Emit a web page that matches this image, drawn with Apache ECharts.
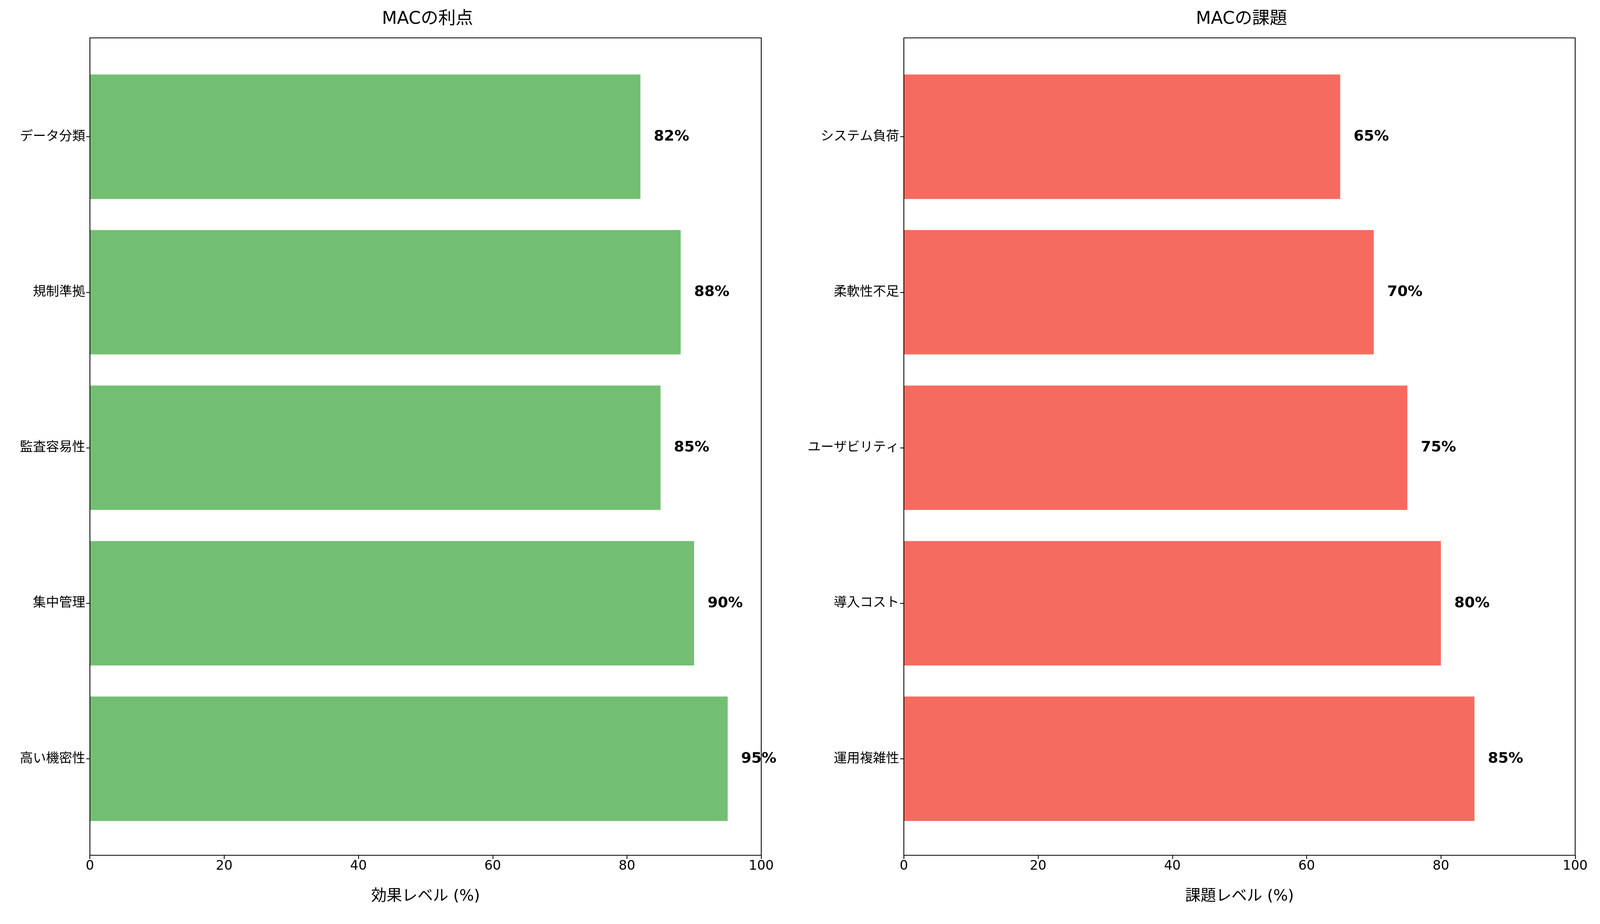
<!DOCTYPE html>
<html>
<head>
<meta charset="utf-8">
<script src="https://cdn.jsdelivr.net/npm/echarts@6/dist/echarts.min.js"></script>
<style>html,body{margin:0;background:#fff;overflow:hidden}#chart{width:100vw;height:100vh}</style>
</head>
<body>
<div id="chart"></div>
<script>
// data
const meritNames = ['高い機密性', '集中管理', '監査容易性', '規制準拠', 'データ分類'];
const meritValues = [95, 90, 85, 88, 82];
const issueNames = ['運用複雑性', '導入コスト', 'ユーザビリティ', '柔軟性不足', 'システム負荷'];
const issueValues = [85, 80, 75, 70, 65];

const font = 'DejaVu Sans, Noto Sans CJK JP, sans-serif';
const chart = echarts.init(document.getElementById('chart'));
const W = chart.getWidth(), H = chart.getHeight();
const sx = W / 4769, sy = H / 2366, s = Math.min(sx, sy);

const grids = [
    { left: 268 * sx, width: 2001 * sx, top: 151 * sy, bottom: 224 * sy },
    { left: 2694 * sx, width: 2001 * sx, top: 151 * sy, bottom: 224 * sy }
];

function xAxis(idx, name) {
    return {
        type: 'value', gridIndex: idx, min: 0, max: 100, interval: 20, offset: 48 * sy,
        name: name, nameLocation: 'middle', nameGap: 100 * s,
        nameTextStyle: { fontSize: 46 * s, fontFamily: font, color: '#000' },
        axisLine: { show: false },
        axisTick: { show: true, length: 11 * s, lineStyle: { color: '#000', width: 2.5 * s } },
        axisLabel: { fontSize: 39 * s, fontFamily: font, color: '#000', margin: 14 * s },
        splitLine: { show: false }
    };
}
function yAxis(idx, names) {
    return {
        type: 'category', gridIndex: idx, data: names,
        axisLine: { show: false },
        axisTick: { show: true, alignWithLabel: true, length: 11 * s, lineStyle: { color: '#000', width: 2.5 * s } },
        axisLabel: { fontSize: 39 * s, fontFamily: font, color: '#000', margin: 14 * s }
    };
}
function bars(idx, values, color) {
    return {
        type: 'bar', xAxisIndex: idx, yAxisIndex: idx, data: values,
        barCategoryGap: '20%', itemStyle: { color: color },
        label: {
            show: true, position: 'right', distance: 40 * s, formatter: '{c}%',
            fontSize: 44 * s, fontWeight: 'bold', fontFamily: font, color: '#000'
        }
    };
}
function frame(g) {
    return {
        type: 'rect', shape: { x: g.left, y: 97 * sy, width: g.width, height: 2093 * sy },
        style: { fill: 'none', stroke: '#000', lineWidth: 2.5 * s }, z: 100
    };
}
function title(text, g) {
    return { text: text, left: g.left + g.width / 2, top: 22 * sy, textAlign: 'center',
        textStyle: { fontSize: 52 * s, fontWeight: 'normal', fontFamily: font, color: '#000' } };
}

chart.setOption({
    animation: false,
    title: [title('MACの利点', grids[0]), title('MACの課題', grids[1])],
    grid: grids,
    xAxis: [xAxis(0, '効果レベル (%)'), xAxis(1, '課題レベル (%)')],
    yAxis: [yAxis(0, meritNames), yAxis(1, issueNames)],
    series: [bars(0, meritValues, '#72bf73'), bars(1, issueValues, '#f66b60')],
    graphic: [frame(grids[0]), frame(grids[1])]
});
</script>
</body>
</html>
